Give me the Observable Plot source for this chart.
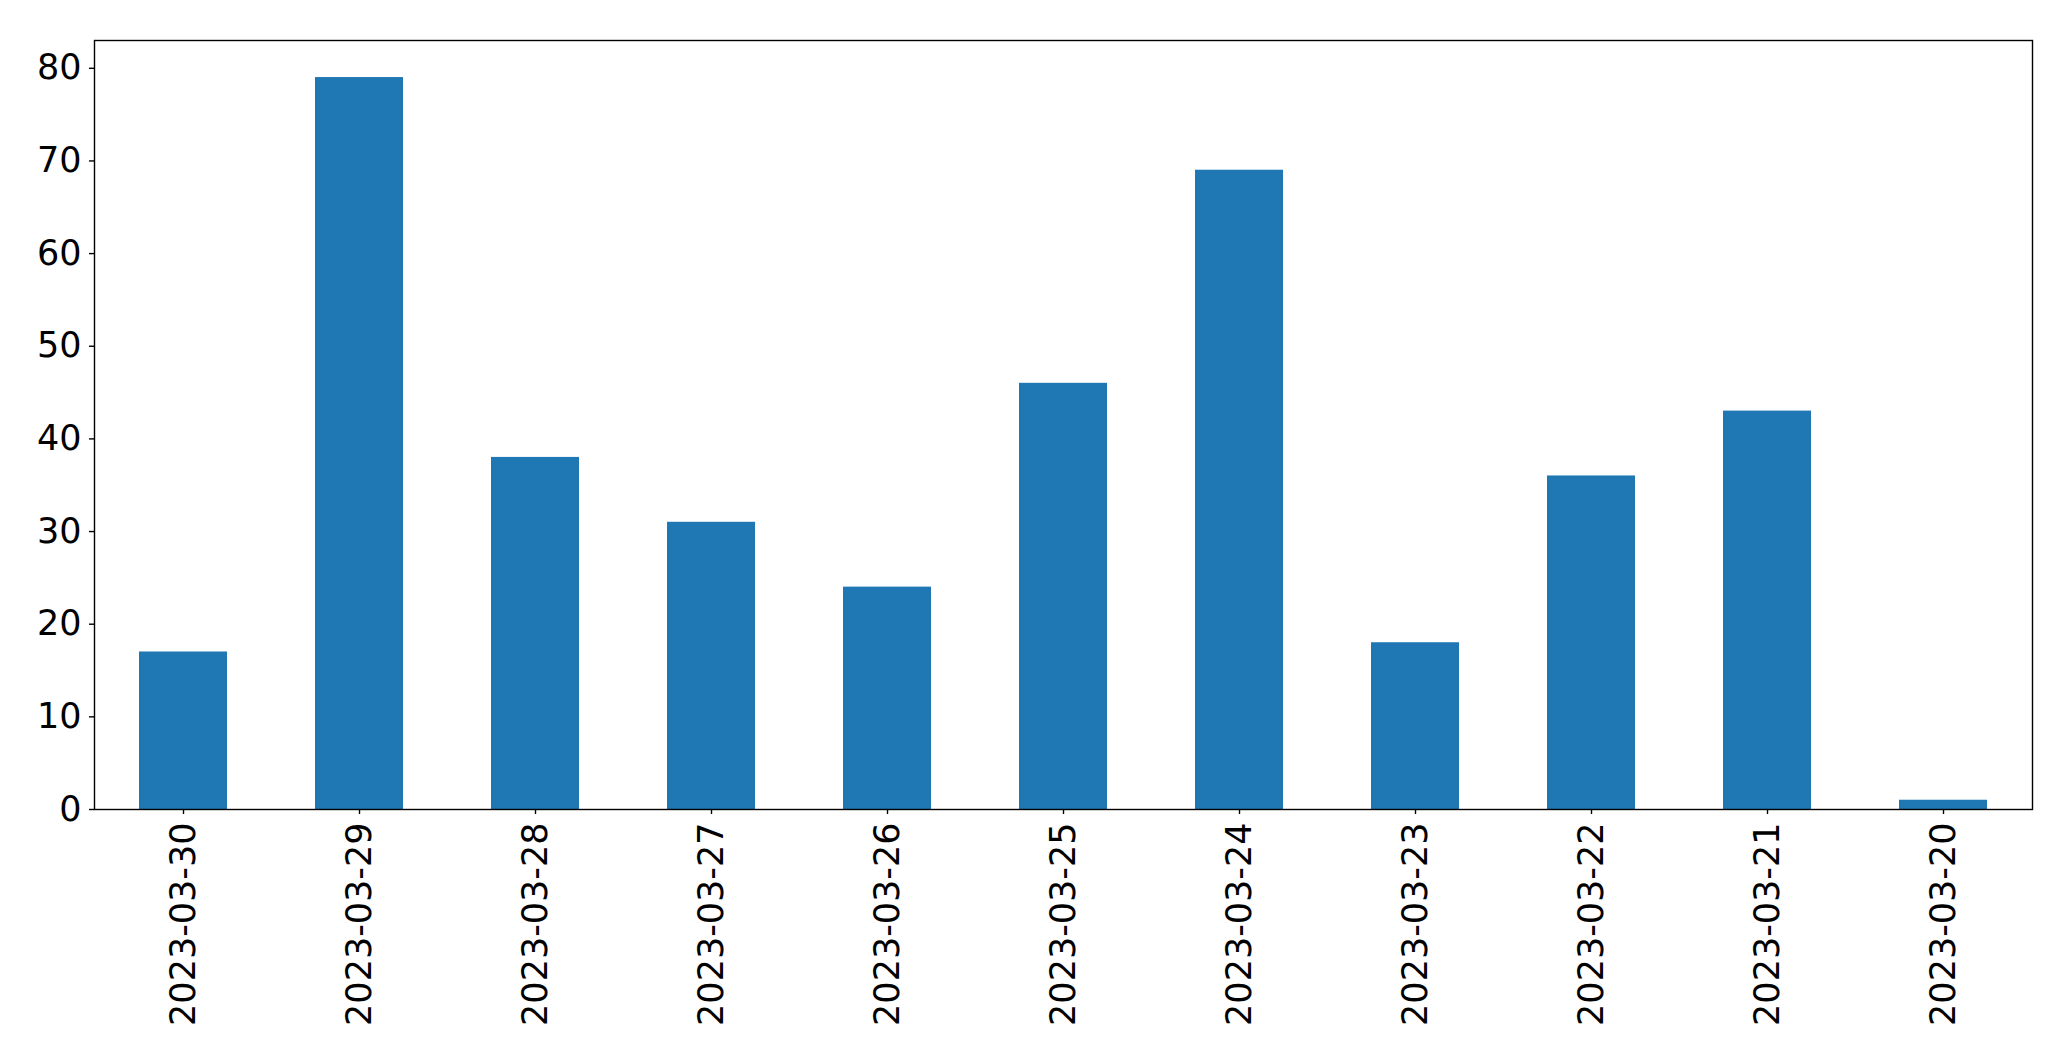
<!DOCTYPE html>
<html>
<head>
<meta charset="utf-8">
<script src="https://cdn.jsdelivr.net/npm/d3@7"></script>
<script src="https://cdn.jsdelivr.net/npm/@observablehq/plot@0.6"></script>
<style>
  html, body { margin: 0; padding: 0; background: #fff; overflow: hidden; }
  #chart svg { display: block; }
</style>
</head>
<body>
<div id="chart"></div>
<script>
const dates = ["2023-03-30","2023-03-29","2023-03-28","2023-03-27","2023-03-26","2023-03-25","2023-03-24","2023-03-23","2023-03-22","2023-03-21","2023-03-20"];
const counts = [17, 79, 38, 31, 24, 46, 69, 18, 36, 43, 1];
const yTicks = [0, 10, 20, 30, 40, 50, 60, 70, 80];

const data = dates.map((d, i) => ({date: d, count: counts[i]}));

const chart = Plot.plot({
  width: 2071,
  height: 1061,
  marginLeft: 94,
  marginRight: 39,
  marginTop: 40,
  marginBottom: 252,
  style: {fontFamily: "DejaVu Sans", background: "#fff", color: "#000"},
  x: {domain: dates, paddingInner: 0.5, paddingOuter: 0.25, align: 0.5, label: null},
  y: {domain: [0, 83], label: null},
  marks: [
    Plot.barY(data, {x: "date", y: "count", fill: "#1f77b4"}),
    Plot.frame({stroke: "#000", strokeWidth: 1.4}),
    Plot.axisY({ticks: yTicks, tickSize: 5, tickPadding: 8, fontSize: 35, label: null, stroke: "#000", strokeWidth: 1.4}),
    Plot.axisX({tickSize: 5, tickPadding: 8, tickRotate: -90, fontSize: 35, label: null, stroke: "#000", strokeWidth: 1.4})
  ]
});
document.getElementById("chart").appendChild(chart);
</script>
</body>
</html>
